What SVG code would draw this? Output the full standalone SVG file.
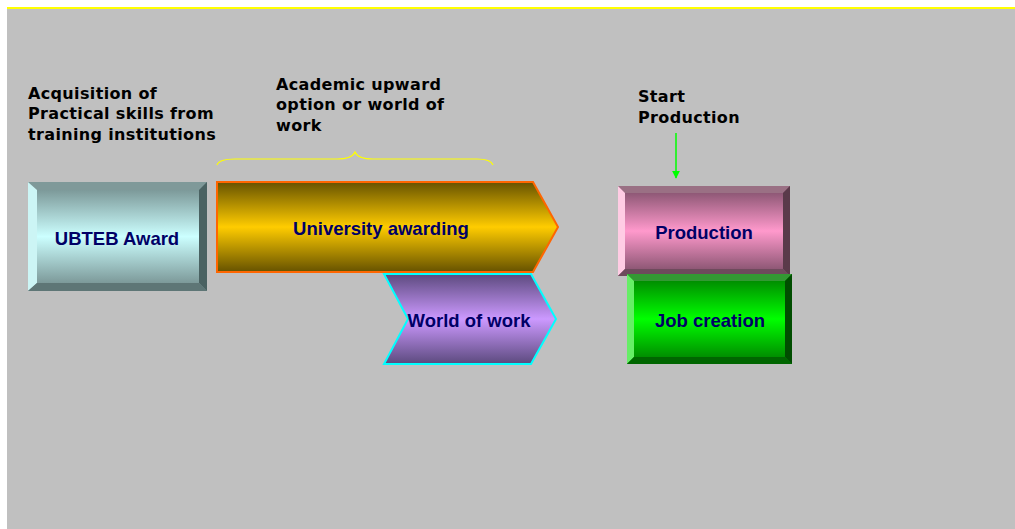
<svg xmlns="http://www.w3.org/2000/svg" width="1015" height="529" viewBox="0 0 1015 529">
<defs>
<linearGradient id="gTeal" x1="0" y1="0" x2="0" y2="1">
<stop offset="0" stop-color="#6f8888"/><stop offset="0.5" stop-color="#ccffff"/><stop offset="1" stop-color="#6f8888"/>
</linearGradient>
<linearGradient id="gGold" x1="0" y1="0" x2="0" y2="1">
<stop offset="0" stop-color="#665200"/><stop offset="0.5" stop-color="#ffcc00"/><stop offset="1" stop-color="#665200"/>
</linearGradient>
<linearGradient id="gPurple" x1="0" y1="0" x2="0" y2="1">
<stop offset="0" stop-color="#5c4a7e"/><stop offset="0.5" stop-color="#cc99ff"/><stop offset="1" stop-color="#5c4a7e"/>
</linearGradient>
<linearGradient id="gPink" x1="0" y1="0" x2="0" y2="1">
<stop offset="0" stop-color="#7a4c66"/><stop offset="0.5" stop-color="#ff99cc"/><stop offset="1" stop-color="#7a4c66"/>
</linearGradient>
<linearGradient id="gGreen" x1="0" y1="0" x2="0" y2="1">
<stop offset="0" stop-color="#007a00"/><stop offset="0.5" stop-color="#00ff00"/><stop offset="1" stop-color="#007a00"/>
</linearGradient>
<marker id="arrG" viewBox="0 0 10 10" refX="9" refY="5" markerWidth="8" markerHeight="8" markerUnits="userSpaceOnUse" orient="auto">
<path d="M0,0 L10,5 L0,10 z" fill="#00ff00"/>
</marker>
</defs>
<style>
.note{font-family:"Comic Sans MS","DejaVu Sans",sans-serif;font-weight:bold;font-size:16px;letter-spacing:0.35px;fill:#000000}
.lbl{font-family:"Liberation Sans",Arial,sans-serif;font-weight:bold;font-size:18.5px;fill:#000066;text-anchor:middle}
</style>
<rect x="0" y="0" width="1015" height="529" fill="#ffffff"/>
<rect x="7" y="9" width="1008" height="520" fill="#c0c0c0"/>
<line x1="7" y1="8" x2="1015" y2="8" stroke="#ffff00" stroke-width="2"/>

<g id="note-acquisition">
<text class="note" x="28" y="99">Acquisition of</text>
<text class="note" x="28" y="119">Practical skills from</text>
<text class="note" x="28" y="140">training institutions</text>
</g>
<g id="note-academic">
<text class="note" x="276" y="90">Academic upward</text>
<text class="note" x="276" y="110">option or world of</text>
<text class="note" x="276" y="131">work</text>
</g>
<g id="note-start">
<text class="note" x="638" y="102">Start</text>
<text class="note" x="638" y="123">Production</text>
</g>

<g id="ubteb">
<rect x="28" y="182" width="179" height="109" fill="url(#gTeal)"/>
<polygon points="28,182 207,182 199,190 37,190" fill="#7f9999"/>
<polygon points="28,182 37,190 37,283 28,291" fill="#ccf5f5"/>
<polygon points="207,182 207,291 199,283 199,190" fill="#4a6262"/>
<polygon points="28,291 37,283 199,283 207,291" fill="#5e7676"/>
<text class="lbl" x="117" y="245">UBTEB Award</text>
</g>

<g id="university">
<polygon points="217,182 533,182 558,227 533,272 217,272" fill="url(#gGold)" stroke="#ff6600" stroke-width="2"/>
<text class="lbl" x="381" y="235">University awarding</text>
</g>

<g id="world">
<polygon points="384,274 531,274 556,319 531,364 384,364 408,319" fill="url(#gPurple)" stroke="#00ffff" stroke-width="2"/>
<text class="lbl" x="469" y="327">World of work</text>
</g>

<g id="production">
<rect x="618" y="186" width="172" height="90" fill="url(#gPink)"/>
<polygon points="618,186 790,186 783,193 625,193" fill="#9a7084"/>
<polygon points="618,186 625,193 625,269 618,276" fill="#ffcce4"/>
<polygon points="790,186 790,276 783,269 783,193" fill="#5a3a4a"/>
<polygon points="618,276 625,269 783,269 790,276" fill="#6e4a5c"/>
<text class="lbl" x="704" y="239">Production</text>
</g>

<g id="job">
<rect x="627" y="274" width="165" height="90" fill="url(#gGreen)"/>
<polygon points="627,274 792,274 785,281 634,281" fill="#339933"/>
<polygon points="627,274 634,281 634,357 627,364" fill="#66ee66"/>
<polygon points="792,274 792,364 785,357 785,281" fill="#004d00"/>
<polygon points="627,364 634,357 785,357 792,364" fill="#006600"/>
<text class="lbl" x="710" y="327">Job creation</text>
</g>

<g id="connectors">
<path d="M217,165 Q219,159 235,159 L337,159 Q352,159 355,152 Q358,159 373,159 L477,159 Q491,159 493,165" fill="none" stroke="#ffff00" stroke-width="1.2"/>
<line x1="676" y1="133" x2="676" y2="178" stroke="#00ff00" stroke-width="1.5" marker-end="url(#arrG)"/>
</g>
</svg>
